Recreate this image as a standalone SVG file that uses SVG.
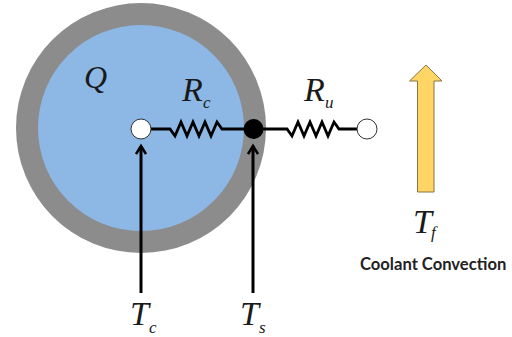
<svg xmlns="http://www.w3.org/2000/svg" width="512" height="337" viewBox="0 0 512 337">
<defs><marker id="ah" markerUnits="userSpaceOnUse" markerWidth="16" markerHeight="12" refX="9" refY="6" orient="auto"><path d="M1 1L9 6L1 11" fill="none" stroke="#000" stroke-width="2.600"/></marker></defs>
<style>
.m{font-family:"Liberation Serif","Times New Roman",serif;font-style:italic;fill:#1a1a1a}
.b{font-size:34px}.s{font-size:17px}
.w{fill:none;stroke:#000;stroke-width:2.800;stroke-linejoin:miter}
.v{fill:none;stroke:#000;stroke-width:3}
</style>
<rect width="512" height="337" fill="#fff"/>
<g id="body"><circle cx="141" cy="128" r="125" fill="#8c8c8c"/><circle cx="141" cy="128" r="103" fill="#8db8e5"/></g>
<g id="connectors">
<path class="w" d="M150 129H170L175 136L181 122L187 136L193 122L199 136L205 122L211 136L217 122L222 129H245"/>
<path class="w" d="M262 129H287L292 136L298 122L304 136L310 122L316 136L322 122L328 136L334 122L339 129H358"/>
<line class="v" x1="141" y1="293" x2="141" y2="146" marker-end="url(#ah)"/>
<line class="v" x1="253" y1="293" x2="253" y2="146" marker-end="url(#ah)"/>
</g>
<g id="node-tc"><circle cx="141" cy="129" r="10" fill="#fff" stroke="#333" stroke-width="1"/></g>
<g id="node-ts"><circle cx="253.500" cy="129" r="10" fill="#000"/></g>
<g id="node-tf"><circle cx="367" cy="129" r="10" fill="#fff" stroke="#333" stroke-width="1"/></g>
<g id="coolant-arrow"><path d="M417.500 192V81H409.500L426 65L442 81H434V192Z" fill="#ffd566" stroke="#8a7440" stroke-width="1"/></g>
<g id="labels">
<text class="m" x="84" y="88" style="font-size:32px">Q</text>
<text class="m b" x="182" y="101">R</text><text class="m s" x="203" y="108">c</text>
<text class="m b" x="304" y="101">R</text><text class="m s" x="325" y="108">u</text>
<text class="m b" x="413" y="233">T</text><text class="m s" x="431" y="238">f</text>
<text class="m b" x="130" y="325">T</text><text class="m s" x="149" y="333">c</text>
<text class="m b" x="240" y="325">T</text><text class="m s" x="259" y="333">s</text>
<text x="360" y="270" style="font-family:Lato,'Open Sans','Liberation Sans',sans-serif;font-weight:700;font-size:16.600px;fill:#222">Coolant Convection</text>
</g>
</svg>
